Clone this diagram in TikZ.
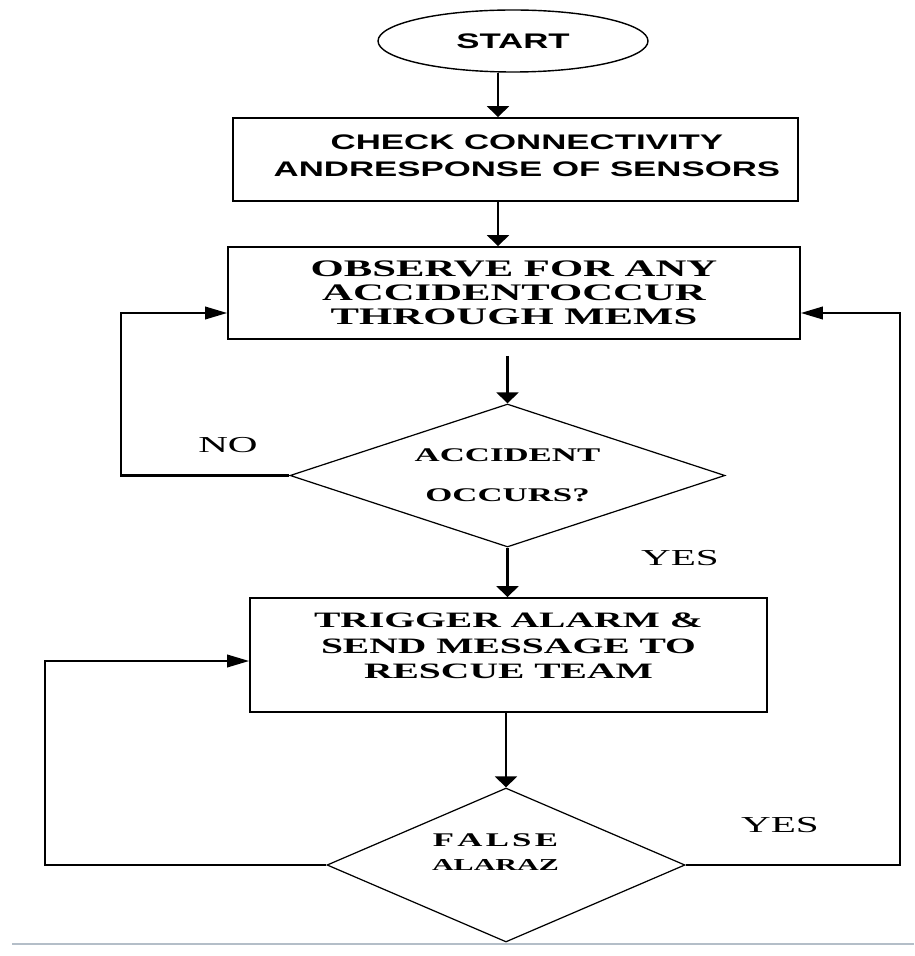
\documentclass[tikz,border=0pt]{standalone}
\usepackage{fontspec}
\usetikzlibrary{shapes.geometric,arrows.meta}
\newfontfamily\flowsans{Liberation Sans Bold}[FakeStretch=1.65]
\newfontfamily\flowserif{Liberation Serif Bold}[FakeStretch=1.8]
\newfontfamily\flowplain{Liberation Serif}[FakeStretch=1.8]
\definecolor{rulegray}{RGB}{180,190,200}
% lines of a box, lifted inside the box without changing its size
\newcommand{\liftlines}[2]{\raisebox{#1}[\height][\depth]{\begin{tabular}{@{}c@{}}#2\end{tabular}}}
\begin{document}
\begin{tikzpicture}[
		blk/.style={draw,line width=1pt,align=center,inner sep=0pt},
		dec/.style={draw,diamond,line width=0.7pt,align=center,inner sep=0pt},
		varr/.style={line width=1.2pt,-{Triangle[length=0.22cm,width=0.44cm]}},
		harr/.style={line width=1.2pt,-{Triangle[length=0.44cm,width=0.25cm]}},
		lbl/.style={font=\flowplain\fontsize{13}{15}\selectfont,inner sep=0pt}]
			\useasboundingbox (0,0) rectangle (18.28,-19.12);
			% blocks
			\node[draw,ellipse,line width=0.8pt,minimum width=5.4cm,minimum height=1.24cm,font=\flowsans\fontsize{12}{14}\selectfont] (start) at (10.26,-0.82) {START};
			\node[blk,minimum width=11.3cm,minimum height=1.66cm,font=\flowsans\fontsize{12}{15.2}\selectfont] (check) at (10.31,-3.19) {\hspace*{13pt}\liftlines{1pt}{CHECK CONNECTIVITY\\ANDRESPONSE OF SENSORS}};
			\node[blk,minimum width=11.44cm,minimum height=1.84cm,font=\flowserif\fontsize{13.5}{13.7}\selectfont] (observe) at (10.28,-5.86) {OBSERVE FOR ANY\\ACCIDENTOCCUR\\THROUGH MEMS};
			\node[dec,aspect=3.04,minimum width=8.7cm,minimum height=2.86cm,font=\flowserif\fontsize{11}{22.8}\selectfont] (accident) at (10.15,-9.51) {ACCIDENT\\OCCURS?};
			\node[blk,minimum width=10.34cm,minimum height=2.28cm,font=\flowserif\fontsize{12.5}{14.6}\selectfont] (alarm) at (10.17,-13.1) {\liftlines{4pt}{TRIGGER ALARM \&\\SEND MESSAGE TO\\RESCUE TEAM}};
			\node[dec,aspect=2.32,minimum width=7.16cm,minimum height=3.08cm,font=\flowserif\fontsize{11}{13.7}\selectfont] (falsealarm) at (10.12,-17.3) {\liftlines{6.5pt}{F\,A\,L\,S\,E\\{\fontsize{9.5}{13.7}\selectfont ALARAZ}}\hspace*{12pt}};
			% labels
			\node[lbl] (nolbl) at (4.56,-8.9) {NO};
			\node[lbl] (yeslbl) at (13.6,-11.16) {YES};
			\node[lbl] (yesback) at (15.6,-16.5) {YES};
			% columns of the loops
			\coordinate (flowcol) at (9.96,0);
			\coordinate (nocol) at (2.42,0);
			\coordinate (falsecol) at (0.9,0);
			\coordinate (yescol) at (18.0,0);
			\coordinate (observein) at ([yshift=-0.4cm]observe.west);
			\coordinate (observeback) at ([yshift=-0.4cm]observe.east);
			\coordinate (alarmin) at ([yshift=-0.12cm]alarm.west);
			% connectors
			\draw[varr] (start.south -| flowcol) -- (check.north -| flowcol);
			\draw[varr] (check.south -| flowcol) -- (observe.north -| flowcol);
			\draw[varr] ([yshift=-0.32cm]observe.south -| accident.north) -- (accident.north);
			\draw[varr] (accident.south) -- (accident.south |- alarm.north);
			\draw[varr] (alarm.south -| falsealarm.north) -- (falsealarm.north);
			\draw[harr] (accident.west) -| (nocol |- observein) -- (observein);
			\draw[harr] (falsealarm.west) -| (falsecol |- alarmin) -- (alarmin);
			\draw[harr] (falsealarm.east) -| (yescol |- observeback) -- (observeback);
			% page rule
			\draw[rulegray,line width=1.1pt] (0.24,-18.88) -- (18.28,-18.88);
		\end{tikzpicture}
\end{document}
